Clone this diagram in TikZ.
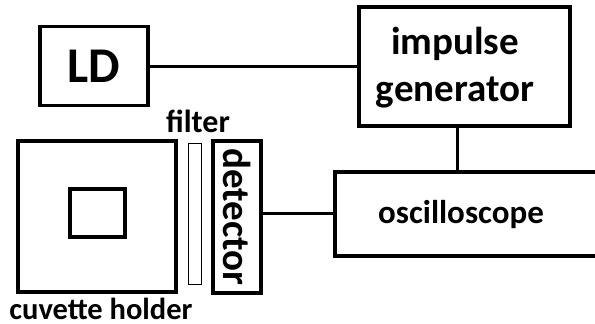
\documentclass[tikz,border=0pt]{standalone}
\usepackage{fontspec}
\setmainfont{Carlito}
\usetikzlibrary{positioning}

\begin{document}
\begin{tikzpicture}
        [ x=1pt, y=-1pt
        , box/.style={draw, line width=3.5pt, inner sep=0pt}
        , thin box/.style={draw, line width=0.8pt, inner sep=0pt}
        , wire/.style={line width=3pt}
        , lbl/.style={inner sep=0pt, font=\bfseries}
        ]
        \useasboundingbox (0,0) rectangle (595,324);

        \node (ld) [box, minimum width=108pt, minimum height=79pt] at (94,66) {};
        \node (ldt) [lbl, font=\fontsize{50}{50}\selectfont\bfseries] at (ld.center) {LD};
        \node (gen) [box, minimum width=211pt, minimum height=119pt] at (464.5,66.5) {};
        \node (gent) [lbl, align=center, font=\fontsize{39}{47}\selectfont\bfseries] at (455,68)
            {impulse\\generator};
        \node (osc) [box, minimum width=280pt, minimum height=84pt] at (475,214) {};
        \node (osct) [lbl, font=\fontsize{33}{33}\selectfont\bfseries] at (461,215) {oscilloscope};

        \node (cuv) [box, minimum width=158pt, minimum height=151pt] at (97,216.5) {};
        \node (cell) [box, minimum width=55pt, minimum height=48pt] at (97.5,213) {};
        \node (filt) [thin box, minimum width=13pt, minimum height=141pt] at (194.5,213.5) {};
        \node (det) [box, minimum width=48pt, minimum height=152pt] at (237,217) {};
        \node (dett) [lbl, rotate=-90, font=\fontsize{39}{39}\selectfont\bfseries] at (237,217) {detector};

        \node (filtl) [lbl, font=\fontsize{32}{32}\selectfont\bfseries] at (198,121) {filter};
        \node (cuvl) [lbl, font=\fontsize{30.5}{30.5}\selectfont\bfseries] at (101,309) {cuvette holder};

        \draw[wire] (ld.east) -- (ld.east -| gen.west);
        \draw[wire] (gen.south -| 457,0) -- (osc.north -| 457,0);
        \draw[wire] (det.east |- 0,213) -- (osc.west |- 0,213);
\end{tikzpicture}
\end{document}
